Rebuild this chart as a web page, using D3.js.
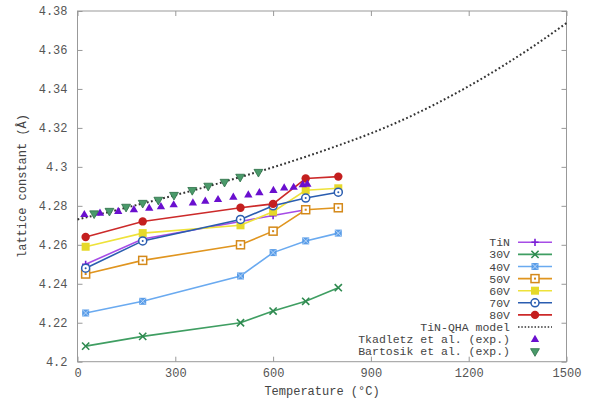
<!DOCTYPE html>
<html><head><meta charset="utf-8">
<script src="https://cdn.jsdelivr.net/npm/d3@7"></script>
<style>
body{margin:0;background:#fff;}
text{font-family:"Liberation Mono","DejaVu Sans Mono",monospace;white-space:pre;}
</style></head>
<body><svg id="c" width="592" height="403"></svg>
<script>
const temps = [25, 200, 500, 600, 700, 800];
const tinVals = [4.250, 4.263, 4.272, 4.275, 4.278];
const v30 = [4.208, 4.213, 4.220, 4.226, 4.231, 4.238];
const v40 = [4.225, 4.231, 4.244, 4.256, 4.262, 4.266];
const v50 = [4.245, 4.252, 4.260, 4.267, 4.278, 4.279];
const v60 = [4.259, 4.266, 4.270, 4.277, 4.288, 4.289];
const v70 = [4.248, 4.262, 4.273, 4.280, 4.284, 4.287];
const v80 = [4.264, 4.272, 4.279, 4.281, 4.294, 4.295];
const qhaT = [0,100,200,300,400,500,600,700,800,900,1000,1100,1200,1300,1400,1500];
const qhaV = [4.2730,4.2770,4.2812,4.2855,4.2900,4.2948,4.2998,4.3052,4.3110,4.3172,4.3243,4.3324,4.3414,4.3513,4.3621,4.3738];
const tkT = [21,69,125,173,220,256,295,354,392,431,478,524,558,601,634,663,691,705];
const tkV = [4.2757,4.2764,4.2773,4.2782,4.2790,4.2798,4.2807,4.2817,4.2826,4.2834,4.2846,4.2858,4.2869,4.2881,4.2894,4.2897,4.2910,4.2913];
const btT = [51,98,149,200,248,296,352,401,451,499,555];
const btV = [4.2761,4.2774,4.2795,4.2815,4.2831,4.2856,4.2881,4.2903,4.2923,4.2949,4.2974];
const xTicks = [0,300,600,900,1200,1500];
const yTicks = [4.2,4.22,4.24,4.26,4.28,4.3,4.32,4.34,4.36,4.38];

const series = [
 {name:"TiN", vals:tinVals, color:"#a64ce6", mcolor:"#7b1fd6", sym:"plus"},
 {name:"30V", vals:v30, color:"#3f9e62", mcolor:"#2f8a50", sym:"cross"},
 {name:"40V", vals:v40, color:"#6aaaf0", mcolor:"#5a9de8", sym:"boxstar"},
 {name:"50V", vals:v50, color:"#e0951f", mcolor:"#d4891a", sym:"openbox"},
 {name:"60V", vals:v60, color:"#eee23a", mcolor:"#e6d92a", sym:"fillbox"},
 {name:"70V", vals:v70, color:"#2a5db0", mcolor:"#2a5db0", sym:"opencircle"},
 {name:"80V", vals:v80, color:"#cc2a2a", mcolor:"#c41f1f", sym:"fillcircle"}
];

const svg = d3.select("#c");
const L=77.5,R=566.5,T=11,B=361.7;
const x = d3.scaleLinear().domain([0,1500]).range([L,R]);
const y = d3.scaleLinear().domain([4.2,4.38]).range([B,T]);
const axisCol="#999", txtCol="#555";

svg.append("rect").attr("x",L).attr("y",T).attr("width",R-L).attr("height",B-T)
  .attr("fill","none").attr("stroke",axisCol).attr("stroke-width",1);

const tl=5;
const xa = svg.append("g").attr("transform",`translate(0,${B})`)
  .call(d3.axisBottom(x).tickValues(xTicks).tickSize(-tl).tickPadding(5).tickFormat(d3.format("d")));
const xt = svg.append("g").attr("transform",`translate(0,${T})`)
  .call(d3.axisTop(x).tickValues(xTicks).tickSize(-tl).tickFormat(""));
const ya = svg.append("g").attr("transform",`translate(${L},0)`)
  .call(d3.axisLeft(y).tickValues(yTicks).tickSize(-tl).tickPadding(10).tickFormat(d=>String(+d.toFixed(2))));
const yr = svg.append("g").attr("transform",`translate(${R},0)`)
  .call(d3.axisRight(y).tickValues(yTicks).tickSize(-tl).tickFormat(""));
[xa,xt,ya,yr].forEach(g=>{
  g.select(".domain").remove();
  g.selectAll(".tick line").attr("stroke",axisCol);
  g.selectAll("text").attr("fill",txtCol).style("font-size","12px")
   .style("font-family",'"Liberation Mono",monospace');
});
xa.selectAll(".tick text").attr("dy","0.9em");

svg.append("text").attr("x",(x(0)+x(1500))/2).attr("y",395).attr("text-anchor","middle")
  .attr("fill","#444").style("font-size","12px").text("Temperature (°C)");
svg.append("text").attr("transform","translate(26,186) rotate(-90)").attr("text-anchor","middle")
  .attr("fill","#444").style("font-size","12px").text("lattice constant (Å)");

const plot = svg.append("g");

function marker(g, sym, cx, cy, col){
  const s=3.6;
  if(sym==="plus"){
    g.append("path").attr("d",`M${cx-s},${cy}H${cx+s}M${cx},${cy-s}V${cy+s}`).attr("stroke",col).attr("stroke-width",1.6);
  } else if(sym==="cross"){
    g.append("path").attr("d",`M${cx-s},${cy-s}L${cx+s},${cy+s}M${cx-s},${cy+s}L${cx+s},${cy-s}`).attr("stroke",col).attr("stroke-width",1.6);
  } else if(sym==="boxstar"){
    g.append("rect").attr("x",cx-3.5).attr("y",cy-3.5).attr("width",7).attr("height",7).attr("fill",col);
    g.append("path").attr("d",`M${cx-3},${cy-3}L${cx+3},${cy+3}M${cx-3},${cy+3}L${cx+3},${cy-3}`).attr("stroke","#b8d6f8").attr("stroke-width",1);
  } else if(sym==="openbox"){
    g.append("rect").attr("x",cx-4).attr("y",cy-4).attr("width",8).attr("height",8).attr("fill","#fff").attr("stroke",col).attr("stroke-width",1.5);
    g.append("rect").attr("x",cx-1).attr("y",cy-1).attr("width",2).attr("height",2).attr("fill",col);
  } else if(sym==="fillbox"){
    g.append("rect").attr("x",cx-4).attr("y",cy-4).attr("width",8).attr("height",8).attr("fill",col);
  } else if(sym==="opencircle"){
    g.append("circle").attr("cx",cx).attr("cy",cy).attr("r",4).attr("fill","#fff").attr("stroke",col).attr("stroke-width",1.5);
    g.append("circle").attr("cx",cx).attr("cy",cy).attr("r",1).attr("fill",col);
  } else if(sym==="fillcircle"){
    g.append("circle").attr("cx",cx).attr("cy",cy).attr("r",4.2).attr("fill",col);
  } else if(sym==="up"){
    g.append("path").attr("d",d3.symbol(d3.symbolTriangle,30)()).attr("transform",`translate(${cx},${cy+0.5})`).attr("fill",col);
  } else if(sym==="down"){
    g.append("path").attr("d",d3.symbol(d3.symbolTriangle,34)()).attr("transform",`translate(${cx},${cy}) rotate(180)`).attr("fill",col).attr("stroke","#2d7048").attr("stroke-width",0.8);
  }
}

const line = d3.line().x(d=>x(d[0])).y(d=>y(d[1]));
series.forEach(s=>{
  const pts = s.vals.map((v,i)=>[temps[i],v]);
  plot.append("path").attr("d",line(pts)).attr("fill","none").attr("stroke",s.color).attr("stroke-width",1.6);
  pts.forEach(p=>marker(plot,s.sym,x(p[0]),y(p[1]),s.mcolor));
});

const qline = d3.line().x(d=>x(d[0])).y(d=>y(d[1])).curve(d3.curveMonotoneX);
plot.append("path").attr("d",qline(qhaT.map((t,i)=>[t,qhaV[i]]))).attr("fill","none")
  .attr("stroke","#333").attr("stroke-width",2).attr("stroke-dasharray","1.8,2.4");

tkT.forEach((t,i)=>marker(plot,"up",x(t),y(tkV[i]),"#6a0fcf"));
btT.forEach((t,i)=>marker(plot,"down",x(t),y(btV[i]),"#4a9a6a"));

const lg = svg.append("g");
const lx=510, ly0=242.3, dy=12.1, sx0=518, sx1=552, mx=535;
const entries = series.map(s=>({name:s.name,type:"series",s}))
 .concat([{name:"TiN-QHA model",type:"qha"},{name:"Tkadletz et al. (exp.)",type:"tk"},{name:"Bartosik et al. (exp.)",type:"bt"}]);
entries.forEach((e,i)=>{
  const yy = ly0+i*dy;
  lg.append("text").attr("x",lx).attr("y",yy).attr("dy","0.35em").attr("text-anchor","end")
    .attr("fill","#444").style("font-size","11.5px").text(e.name);
  if(e.type==="series"){
    lg.append("line").attr("x1",sx0).attr("x2",sx1).attr("y1",yy).attr("y2",yy).attr("stroke",e.s.color).attr("stroke-width",1.6);
    marker(lg,e.s.sym,mx,yy,e.s.mcolor);
  } else if(e.type==="qha"){
    lg.append("line").attr("x1",sx0).attr("x2",sx1).attr("y1",yy).attr("y2",yy).attr("stroke","#333").attr("stroke-width",1.6).attr("stroke-dasharray","1.5,1.8");
  } else if(e.type==="tk"){
    marker(lg,"up",mx,yy,"#6a0fcf");
  } else {
    marker(lg,"down",mx,yy,"#4a9a6a");
  }
});
</script></body></html>
